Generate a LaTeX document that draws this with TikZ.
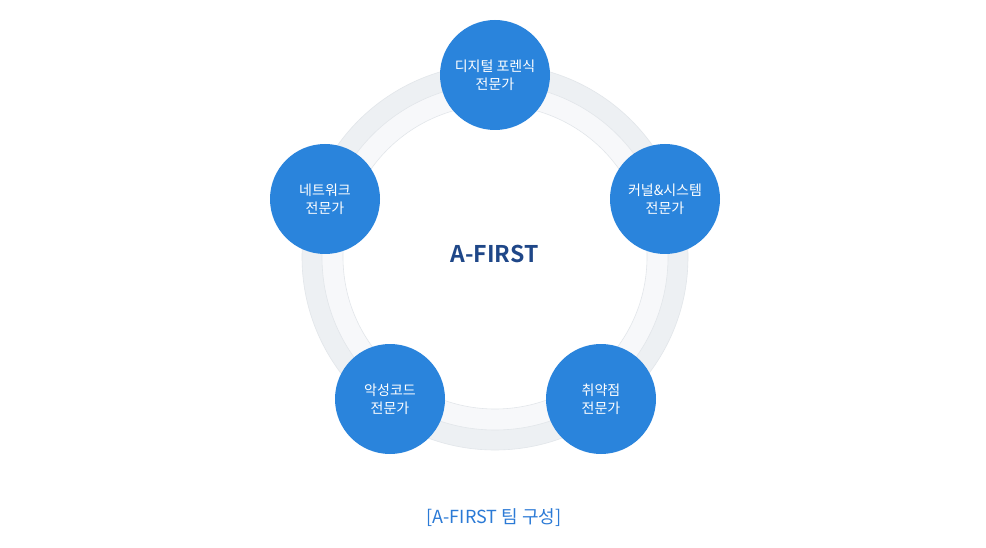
\documentclass[tikz,border=0pt]{standalone}
\usepackage{fontspec}
\setmainfont{Noto Sans CJK KR}
\newfontfamily\krbold{Noto Sans CJK KR Bold}
\definecolor{bandouter}{HTML}{EDF0F3}
\definecolor{bandinner}{HTML}{F7F8FA}
\definecolor{bandline}{HTML}{E2E6EA}
\definecolor{roleblue}{HTML}{2A84DC}
\definecolor{titlenavy}{HTML}{1F4788}
\definecolor{captionblue}{HTML}{2B7AD6}
\tikzset{
  role/.style={circle, fill=roleblue, minimum size=110pt, inner sep=0pt,
    text=white, font=\fontsize{14}{18}\selectfont, align=center},
}
\begin{document}
\begin{tikzpicture}[x=1pt,y=-1pt]
\useasboundingbox (0,0) rectangle (986,548);
\fill[white] (0,0) rectangle (986,548);
% ring around the team
\coordinate (c) at (495,257);
\fill[bandouter, draw=bandline, line width=0.6pt] (c) circle (193);
\fill[bandinner, draw=bandline, line width=0.6pt] (c) circle (173);
\fill[white, draw=bandline, line width=0.6pt] (c) circle (152);
% roles
\node[role] (forensic) at (495,75) {디지털 포렌식\\전문가};
\node[role] (kernel) at (665,199) {커널\&시스템\\전문가};
\node[role] (vuln) at (601,399) {취약점\\전문가};
\node[role] (malware) at (390,399) {악성코드\\전문가};
\node[role] (network) at (325,199) {네트워크\\전문가};
% centre title and caption
\node[text=titlenavy, font=\krbold\fontsize{23}{28}\selectfont] (title) at (494.5,254) {A-FIRST};
\node[text=captionblue, font=\fontsize{18}{20}\selectfont] (caption) at (494,518) {[A-FIRST 팀 구성]};
\end{tikzpicture}
\end{document}
